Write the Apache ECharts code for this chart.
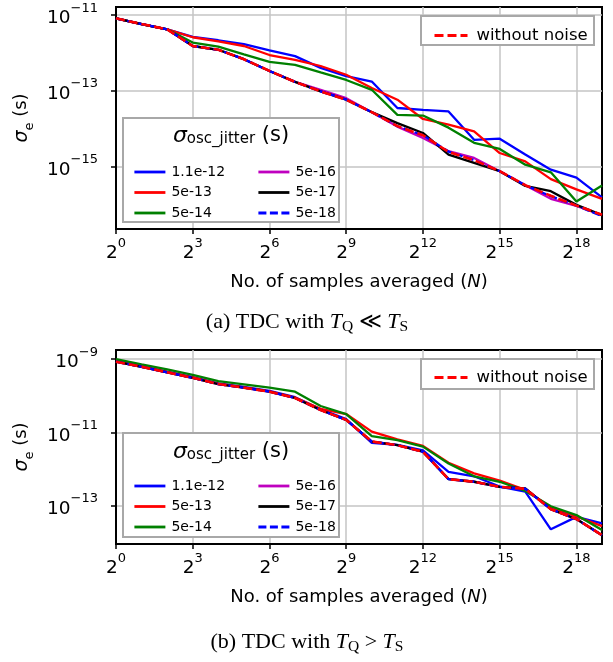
<!DOCTYPE html>
<html>
<head>
<meta charset="utf-8">
<script src="https://cdn.jsdelivr.net/npm/echarts@6/dist/echarts.min.js"></script>
<style>
  html, body { margin: 0; padding: 0; background: #fff; }
  #chart { width: 613px; height: 662px; }
</style>
</head>
<body>
<div id="chart"></div>
<script>
let chart = echarts.init(document.getElementById('chart'));

/* Number of samples averaged, N = 2^0 ... 2^19 */
const samples = [1, 2, 4, 8, 16, 32, 64, 128, 256, 512, 1024, 2048, 4096, 8192,
    16384, 32768, 65536, 131072, 262144, 524288];
const xTicks = [1, 8, 64, 512, 4096, 32768, 262144];

const jitterNames = ['1.1e-12', '5e-13', '5e-14', '5e-16', '5e-17', '5e-18'];
const noiseName = 'without noise';

/* (a) TDC with TQ << TS */
const topYTicks = [1e-15, 1e-13, 1e-11];
const top_1p1e12 = [8.13e-12, 5.75e-12, 4.17e-12, 2.63e-12, 2.14e-12, 1.70e-12, 1.15e-12, 8.13e-13, 3.98e-13, 2.40e-13,
    1.74e-13, 3.47e-14, 3.09e-14, 2.82e-14, 5.01e-15, 5.37e-15, 2.04e-15, 8.13e-16, 5.01e-16, 1.51e-16];
const top_5e13 = [8.13e-12, 5.75e-12, 4.17e-12, 2.57e-12, 2.00e-12, 1.51e-12, 8.71e-13, 6.46e-13, 4.47e-13, 2.63e-13,
    1.17e-13, 5.75e-14, 1.78e-14, 1.26e-14, 8.32e-15, 2.24e-15, 1.35e-15, 4.57e-16, 2.45e-16, 1.38e-16];
const top_5e14 = [8.13e-12, 5.75e-12, 4.17e-12, 1.86e-12, 1.45e-12, 9.12e-13, 5.75e-13, 4.79e-13, 3.02e-13, 1.91e-13,
    1.05e-13, 2.29e-14, 2.19e-14, 1.05e-14, 4.17e-15, 2.88e-15, 1.10e-15, 6.92e-16, 1.17e-16, 3.09e-16];
const top_5e16 = [8.13e-12, 5.75e-12, 4.17e-12, 1.51e-12, 1.20e-12, 6.76e-13, 3.31e-13, 1.70e-13, 1.05e-13, 6.31e-14,
    2.69e-14, 1.12e-14, 5.62e-15, 2.51e-15, 1.66e-15, 7.41e-16, 3.16e-16, 1.38e-16, 8.91e-17, 5.13e-17];
const top_5e17 = [8.13e-12, 5.75e-12, 4.17e-12, 1.51e-12, 1.20e-12, 6.76e-13, 3.31e-13, 1.70e-13, 9.55e-14, 5.75e-14,
    2.69e-14, 1.38e-14, 7.59e-15, 2.04e-15, 1.23e-15, 7.41e-16, 3.02e-16, 2.19e-16, 9.55e-17, 5.13e-17];
const top_5e18 = [8.13e-12, 5.75e-12, 4.17e-12, 1.51e-12, 1.20e-12, 6.76e-13, 3.31e-13, 1.70e-13, 9.55e-14, 5.75e-14,
    2.69e-14, 1.15e-14, 6.61e-15, 2.45e-15, 1.45e-15, 7.41e-16, 3.16e-16, 1.62e-16, 9.12e-17, 4.79e-17];
const top_noiseless = [8.13e-12, 5.75e-12, 4.17e-12, 1.51e-12, 1.20e-12, 6.76e-13, 3.31e-13, 1.70e-13, 9.55e-14, 5.75e-14,
    2.69e-14, 1.15e-14, 6.61e-15, 2.40e-15, 1.45e-15, 7.41e-16, 3.16e-16, 1.66e-16, 9.12e-17, 5.25e-17];

/* (b) TDC with TQ > TS */
const bottomYTicks = [1e-13, 1e-11, 1e-9];
const bottom_1p1e12 = [8.91e-10, 6.46e-10, 4.57e-10, 3.24e-10, 2.19e-10, 1.74e-10, 1.35e-10, 9.12e-11, 4.27e-11, 2.29e-11,
    5.13e-12, 4.57e-12, 3.24e-12, 8.32e-13, 6.31e-13, 3.31e-13, 2.40e-13, 2.24e-14, 4.90e-14, 3.24e-14];
const bottom_5e13 = [8.71e-10, 6.31e-10, 4.47e-10, 3.16e-10, 2.14e-10, 1.70e-10, 1.32e-10, 8.91e-11, 4.37e-11, 3.16e-11,
    1.05e-11, 6.46e-12, 4.27e-12, 1.48e-12, 7.59e-13, 4.79e-13, 2.69e-13, 8.91e-14, 5.01e-14, 2.75e-14];
const bottom_5e14 = [1.00e-9, 7.24e-10, 5.25e-10, 3.72e-10, 2.51e-10, 2.04e-10, 1.66e-10, 1.29e-10, 5.25e-11, 3.16e-11,
    7.94e-12, 6.17e-12, 4.07e-12, 1.41e-12, 6.31e-13, 4.47e-13, 2.51e-13, 9.55e-14, 5.50e-14, 2.14e-14];
const bottom_5e16 = [8.51e-10, 6.17e-10, 4.37e-10, 3.09e-10, 2.09e-10, 1.66e-10, 1.29e-10, 8.71e-11, 4.07e-11, 2.19e-11,
    5.62e-12, 4.47e-12, 2.95e-12, 5.37e-13, 4.47e-13, 3.24e-13, 2.88e-13, 7.94e-14, 4.27e-14, 1.55e-14];
const bottom_5e17 = [8.51e-10, 6.17e-10, 4.37e-10, 3.09e-10, 2.09e-10, 1.66e-10, 1.29e-10, 8.71e-11, 4.07e-11, 2.19e-11,
    5.62e-12, 4.47e-12, 2.95e-12, 5.25e-13, 4.47e-13, 3.24e-13, 2.95e-13, 7.94e-14, 4.27e-14, 1.55e-14];
const bottom_5e18 = [8.51e-10, 6.17e-10, 4.37e-10, 3.09e-10, 2.09e-10, 1.66e-10, 1.29e-10, 8.71e-11, 4.07e-11, 2.19e-11,
    5.62e-12, 4.47e-12, 2.95e-12, 5.25e-13, 4.47e-13, 3.24e-13, 2.88e-13, 7.94e-14, 4.27e-14, 1.55e-14];
const bottom_noiseless = [8.51e-10, 6.17e-10, 4.37e-10, 3.09e-10, 2.09e-10, 1.66e-10, 1.29e-10, 8.71e-11, 4.07e-11, 2.19e-11,
    5.62e-12, 4.47e-12, 2.95e-12, 5.25e-13, 4.47e-13, 3.24e-13, 2.88e-13, 7.94e-14, 4.27e-14, 1.55e-14];

const font = 'DejaVu Sans';
const serif = 'Liberation Serif';
const lineColors = ['#0000ff', '#ff0000', '#008000', '#bf00bf', '#000000', '#0000ff'];
const lineTypes = ['solid', 'solid', 'solid', 'solid', 'solid', [8, 3.5]];

const panels = [
    {
        top: 7, height: 222, yMin: 2.2e-17, yMax: 1.62e-11, yTicks: topYTicks,
        series: [top_1p1e12, top_5e13, top_5e14, top_5e16, top_5e17, top_5e18], noiseless: top_noiseless,
        legendTop: 160, legendBox: [123, 118, 216, 104], legendTitleY: 136,
        noiseBox: [421, 16, 173, 29], noiseTop: 22, caption: 323, captionRel: ' \u226A '
    },
    {
        top: 350, height: 194, yMin: 8.9e-15, yMax: 1.78e-9, yTicks: bottomYTicks,
        series: [bottom_1p1e12, bottom_5e13, bottom_5e14, bottom_5e16, bottom_5e17, bottom_5e18], noiseless: bottom_noiseless,
        legendTop: 474, legendBox: [123, 433, 216, 104], legendTitleY: 452,
        noiseBox: [421, 359, 173, 30], noiseTop: 364, caption: 643, captionRel: ' > '
    }
];

const supRich = {
    b: {fontSize: 18.5, fontFamily: font, color: '#000', lineHeight: 26, verticalAlign: 'bottom'},
    s: {fontSize: 13, fontFamily: font, color: '#000', lineHeight: 14, verticalAlign: 'top'}
};

let grids = [], xAxes = [], yAxes = [], series = [], legends = [], graphics = [];

panels.forEach(function (p, gi) {
    grids.push({
        left: 116, right: 11, top: p.top, height: p.height,
        show: true, borderColor: '#000', borderWidth: 2, backgroundColor: 'transparent',
        outerBoundsMode: 'none', containLabel: false
    });
    xAxes.push({
        type: 'log', logBase: 2, gridIndex: gi, min: 1, max: 524288,
        axisLine: {show: true, lineStyle: {color: '#000', width: 2}},
        axisTick: {show: true, inside: false, length: 5, customValues: xTicks, lineStyle: {color: '#000', width: 1.5}},
        minorTick: {show: false},
        axisLabel: {
            customValues: xTicks, margin: 8, color: '#000',
            formatter: function (v) { return '{b|2}{s|' + Math.round(Math.log2(v)) + '}'; },
            rich: supRich
        },
        splitLine: {show: true, lineStyle: {color: '#c4c4c4', width: 1.5}},
        name: '{n|No. of samples averaged (}{i|N}{n|)}',
        nameLocation: 'middle', nameGap: 44,
        nameTextStyle: {
            rich: {
                n: {fontSize: 18, fontFamily: font, color: '#000'},
                i: {fontSize: 18, fontFamily: font, fontStyle: 'italic', color: '#000'}
            }
        }
    });
    yAxes.push({
        type: 'log', logBase: 10, gridIndex: gi, min: p.yMin, max: p.yMax,
        axisLine: {show: true, lineStyle: {color: '#000', width: 2}},
        axisTick: {show: true, inside: false, length: 5, customValues: p.yTicks, lineStyle: {color: '#000', width: 1.5}},
        minorTick: {show: false},
        axisLabel: {
            customValues: p.yTicks, margin: 18, color: '#000',
            formatter: function (v) { return '{b|10}{s|\u2212' + Math.abs(Math.round(Math.log10(v))) + '}'; },
            rich: supRich
        },
        splitLine: {show: true, lineStyle: {color: '#c4c4c4', width: 1.5}},
        name: '{s|\u03C3}{sub|e}{n| (s)}',
        nameLocation: 'middle', nameGap: 78,
        nameTextStyle: {
            rich: {
                s: {fontSize: 19, fontFamily: font, fontStyle: 'italic', color: '#000', lineHeight: 24, verticalAlign: 'top'},
                sub: {fontSize: 13, fontFamily: font, color: '#000', lineHeight: 14, verticalAlign: 'bottom'},
                n: {fontSize: 18, fontFamily: font, color: '#000', lineHeight: 24, verticalAlign: 'top'}
            }
        }
    });

    p.series.forEach(function (values, si) {
        series.push({
            name: jitterNames[si], type: 'line', xAxisIndex: gi, yAxisIndex: gi,
            data: samples.map(function (n, i) { return [n, values[i]]; }),
            symbol: 'none', smooth: false, animation: false, z: 2,
            lineStyle: {color: lineColors[si], width: 2.3, type: lineTypes[si]},
            itemStyle: {color: lineColors[si]}
        });
    });
    series.push({
        name: noiseName, type: 'line', xAxisIndex: gi, yAxisIndex: gi,
        data: samples.map(function (n, i) { return [n, p.noiseless[i]]; }),
        symbol: 'none', animation: false, z: 2,
        lineStyle: {color: '#ff0000', width: 2.6, type: [9, 4]},
        itemStyle: {color: '#ff0000'}
    });

    /* legend icons: line only, no marker */
    let legendBase = {
        orient: 'vertical', itemWidth: 31, itemHeight: 14, itemGap: 6.5, selectedMode: false, z: 6,
        itemStyle: {opacity: 0, borderWidth: 0},
        lineStyle: {width: 2.8},
        textStyle: {fontSize: 14, fontFamily: font, color: '#000', lineHeight: 14, padding: [0, 0, 0, 1]}
    };
    legends.push(Object.assign({}, legendBase, {data: jitterNames.slice(0, 3), left: 128, top: p.legendTop}));
    legends.push(Object.assign({}, legendBase, {data: jitterNames.slice(3), left: 252, top: p.legendTop}));
    legends.push({
        data: [noiseName], left: 428, top: p.noiseTop, itemWidth: 33, itemHeight: 14, selectedMode: false, z: 6,
        itemStyle: {opacity: 0, borderWidth: 0},
        lineStyle: {width: 3},
        textStyle: {fontSize: 16.5, fontFamily: font, color: '#000', padding: [0, 0, 0, 4]}
    });

    graphics.push({
        type: 'rect', z: 5,
        shape: {x: p.legendBox[0], y: p.legendBox[1], width: p.legendBox[2], height: p.legendBox[3]},
        style: {fill: '#fff', stroke: '#a8a8a8', lineWidth: 2}
    });
    graphics.push({
        type: 'rect', z: 5,
        shape: {x: p.noiseBox[0], y: p.noiseBox[1], width: p.noiseBox[2], height: p.noiseBox[3]},
        style: {fill: '#fff', stroke: '#a8a8a8', lineWidth: 2}
    });
    graphics.push({
        type: 'text', z: 6, x: 231, y: p.legendTitleY,
        style: {
            text: '{s|\u03C3}{sub|osc_jitter}{n| (s)}',
            align: 'center', verticalAlign: 'middle',
            rich: {
                s: {fontSize: 22, fontFamily: font, fontStyle: 'italic', fill: '#000', lineHeight: 22, verticalAlign: 'top'},
                sub: {fontSize: 15, fontFamily: font, fill: '#000', lineHeight: 10, verticalAlign: 'bottom'},
                n: {fontSize: 21, fontFamily: font, fill: '#000', lineHeight: 22, verticalAlign: 'top'}
            }
        }
    });
    graphics.push({
        type: 'text', z: 6, x: 307, y: p.caption,
        style: {
            text: '{n|(' + (gi === 0 ? 'a' : 'b') + ') TDC with }{i|T}{q|Q}{n|' + p.captionRel + '}{i|T}{q|S}',
            align: 'center', verticalAlign: 'middle',
            rich: {
                n: {fontSize: 22, fontFamily: serif, fill: '#000', lineHeight: 23, verticalAlign: 'top'},
                i: {fontSize: 22, fontFamily: serif, fontStyle: 'italic', fill: '#000', lineHeight: 23, verticalAlign: 'top'},
                q: {fontSize: 15.5, fontFamily: serif, fill: '#000', lineHeight: 12, verticalAlign: 'bottom'}
            }
        }
    });
});

chart.setOption({
    backgroundColor: '#fff',
    animation: false,
    grid: grids,
    xAxis: xAxes,
    yAxis: yAxes,
    legend: legends,
    series: series,
    graphic: graphics
});

window.addEventListener('resize', function () {
    chart.resize();
});
</script>
</body>
</html>
